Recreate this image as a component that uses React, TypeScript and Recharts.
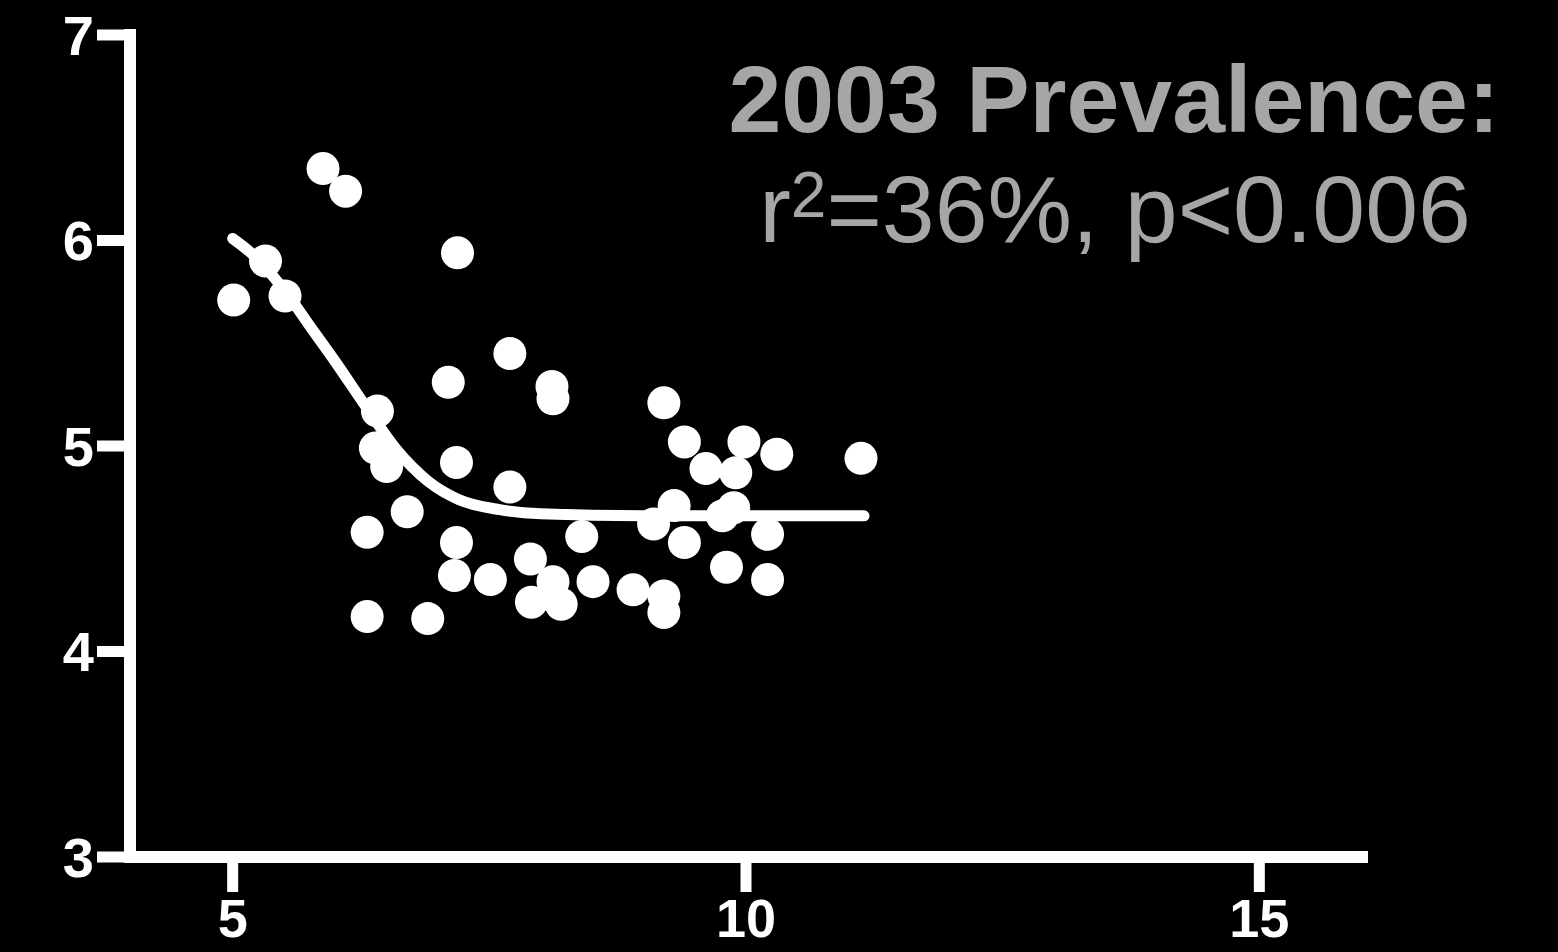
import { ComposedChart, Line, Scatter, XAxis, YAxis } from 'recharts'

// scatter observations
const prevalence = [
  5.01, 5.32, 5.51, 5.88, 6.10, 7.19, 7.70, 7.10, 8.11, 8.12,
  6.41, 6.39, 6.50, 7.18, 7.70, 6.70, 6.31, 7.18, 7.16, 7.51,
  7.90, 8.12, 7.91, 8.20, 8.40, 8.51, 8.90, 9.20, 9.20, 6.31,
  6.90, 9.20, 9.40, 9.61, 9.98, 10.30, 9.90, 9.30, 9.10, 9.88,
  9.77, 9.40, 10.21, 9.81, 10.21, 11.12,
]
const outcome = [
  5.71, 5.90, 5.73, 6.35, 6.24, 5.94, 5.45, 5.31, 5.29, 5.23,
  5.17, 4.99, 4.90, 4.92, 4.80, 4.68, 4.58, 4.53, 4.37, 4.35,
  4.45, 4.34, 4.24, 4.23, 4.56, 4.34, 4.30, 4.27, 4.19, 4.17,
  4.16, 5.21, 5.02, 4.89, 5.02, 4.96, 4.87, 4.71, 4.62, 4.70,
  4.66, 4.53, 4.57, 4.41, 4.35, 4.94,
]

// fitted curve
const fitX = [5.0, 5.2, 5.5, 5.8, 6.0, 6.3, 6.6, 6.9, 7.2, 7.6, 8.0, 9.0, 10.0, 11.15]
const fitY = [6.01, 5.93, 5.76, 5.55, 5.41, 5.19, 4.98, 4.83, 4.74, 4.69, 4.67, 4.66, 4.66, 4.66]

const xTicks = [5, 10, 15]
const yTicks = [3, 4, 5, 6, 7]

const points = prevalence.map((x, i) => ({ x, y: outcome[i] }))
const fit = fitX.map((x, i) => ({ x, y: fitY[i] }))

const W = 1558
const H = 952
const font = '"Liberation Sans", Arial, Helvetica, sans-serif'

const axisLine = { stroke: '#fff', strokeWidth: 12, strokeLinecap: 'square' as const }
const tickLine = { stroke: '#fff', strokeWidth: 11 }
const tickText = { fill: '#fff', fontSize: 56, fontWeight: 700, fontFamily: font }

const Dot = (props: any) => <circle cx={props.cx} cy={props.cy} r={16.5} fill="#fff" />

export default function App() {
  return (
    <div style={{ position: 'fixed', left: 0, top: 0, width: W, height: H, background: '#000', overflow: 'hidden' }}>
      <ComposedChart width={W} height={H} margin={{ top: 35, right: 196, bottom: 35, left: 30 }}>
        <XAxis
          type="number"
          dataKey="x"
          domain={[4, 16]}
          ticks={xTicks}
          allowDataOverflow
          height={60}
          tickSize={35}
          tickMargin={7}
          axisLine={axisLine}
          tickLine={tickLine}
          tick={{ ...tickText, fontSize: 54 }}
        />
        <YAxis
          type="number"
          dataKey="y"
          domain={[3, 7]}
          ticks={yTicks}
          allowDataOverflow
          width={100}
          tickSize={33}
          tickMargin={3}
          axisLine={axisLine}
          tickLine={tickLine}
          tick={tickText}
        />
        <Line
          data={fit}
          dataKey="y"
          type="monotone"
          stroke="#fff"
          strokeWidth={11}
          strokeLinecap="round"
          dot={false}
          activeDot={false}
          isAnimationActive={false}
        />
        <Scatter data={points} dataKey="y" fill="#fff" shape={Dot} isAnimationActive={false} />
      </ComposedChart>
      <svg width={W} height={H} style={{ position: 'absolute', left: 0, top: 0, pointerEvents: 'none' }}>
        <text x={1114} y={132} textAnchor="middle" fill="#a6a6a6" fontSize={95} fontWeight={700} fontFamily={font}>
          2003 Prevalence:
        </text>
        <text x={1115} y={242} textAnchor="middle" fill="#a6a6a6" fontSize={95} fontFamily={font}>
          r
          <tspan fontSize={64} dy={-25}>2</tspan>
          <tspan dy={25}>=36%, p&lt;0.006</tspan>
        </text>
      </svg>
    </div>
  )
}
